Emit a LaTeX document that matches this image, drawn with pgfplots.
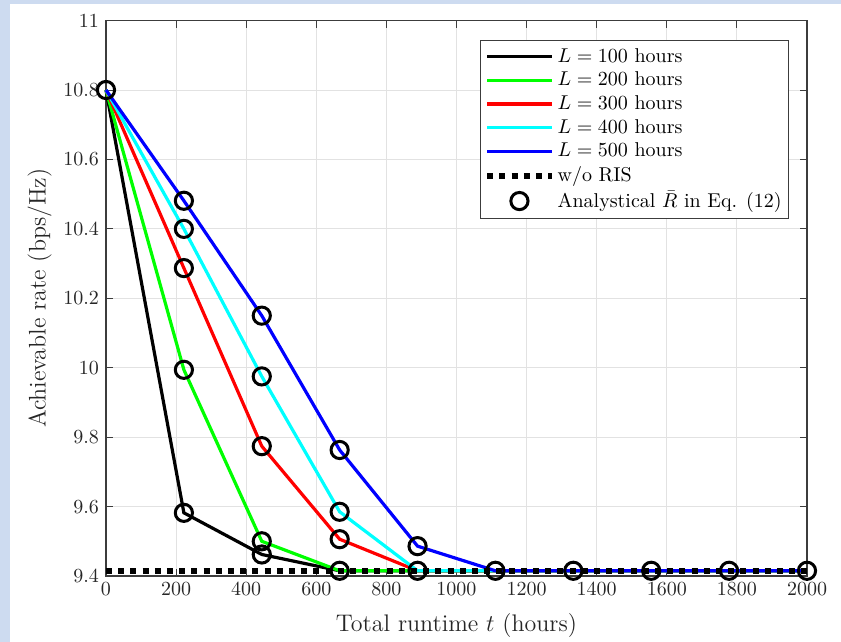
\documentclass[border=0pt]{standalone}
\usepackage{pgfplots}
\pgfplotsset{compat=1.18}
\definecolor{bgblue}{RGB}{205,219,240}
\definecolor{gridgray}{RGB}{226,226,226}
\definecolor{axgray}{RGB}{60,60,60}
\definecolor{mgreen}{RGB}{0,255,0}
\definecolor{mred}{RGB}{255,0,0}
\definecolor{mcyan}{RGB}{0,255,255}
\definecolor{mblue}{RGB}{0,0,255}
\pgfplotsset{
  lineleg/.style={legend image code/.code={\draw[##1] (0cm,0cm) -- (1.13cm,0cm);}},
  circleleg/.style={legend image code/.code={\draw[##1] plot coordinates {(0.565cm,0cm)};}},
}
\begin{document}
\begin{tikzpicture}
\fill[bgblue] (-53pt,-33pt) rectangle (367.5pt,288pt);
\fill[white] (-48pt,-33pt) rectangle (367.5pt,286pt);
\begin{axis}[
  at={(0pt,0pt)}, anchor=south west,
  scale only axis, width=350.5pt, height=277.7pt,
  xmin=0, xmax=2000, ymin=9.4, ymax=11,
  xtick={0,200,...,2000},
  ytick={9.4,9.6,9.8,10,10.2,10.4,10.6,10.8,11},
  yticklabels={9.4,9.6,9.8,10,10.2,10.4,10.6,10.8,11},
  scaled x ticks=false,
  xticklabel style={/pgf/number format/1000 sep={}},
  grid=major, major grid style={gridgray, line width=0.5pt},
  tick align=inside, major tick length=3.5pt,
  tick style={axgray, line width=0.5pt},
  axis line style={axgray, line width=0.6pt},
  ticklabel style={text=black!85},
  xlabel={Total runtime $t$ (hours)},
  ylabel={Achievable rate (bps/Hz)},
  label style={text=black!85, font=\large},
  xlabel style={yshift=-2pt},
  ylabel style={yshift=-1pt},
  clip=false,
  legend cell align=left,
  legend style={at={(0.974,0.965)}, anchor=north east, draw=axgray, line width=0.5pt,
    font=\normalsize, row sep=-0.6pt, inner sep=1.8pt,
    nodes={inner xsep=1.5pt}},
  lineleg,
]
\addplot[black, line width=1.6pt] coordinates {(0,10.8) (222.22,9.582) (444.44,9.462) (666.67,9.415) (888.89,9.415) (1111.11,9.415) (1333.33,9.415) (1555.56,9.415) (1777.78,9.415) (2000,9.415)};
\addlegendentry{$L=100$ hours}
\addplot[mgreen, line width=1.6pt] coordinates {(0,10.8) (222.22,9.994) (444.44,9.500) (666.67,9.415) (888.89,9.415) (1111.11,9.415) (1333.33,9.415) (1555.56,9.415) (1777.78,9.415) (2000,9.415)};
\addlegendentry{$L=200$ hours}
\addplot[mred, line width=1.6pt] coordinates {(0,10.8) (222.22,10.287) (444.44,9.774) (666.67,9.506) (888.89,9.415) (1111.11,9.415) (1333.33,9.415) (1555.56,9.415) (1777.78,9.415) (2000,9.415)};
\addlegendentry{$L=300$ hours}
\addplot[mcyan, line width=1.6pt] coordinates {(0,10.8) (222.22,10.400) (444.44,9.975) (666.67,9.585) (888.89,9.415) (1111.11,9.415) (1333.33,9.415) (1555.56,9.415) (1777.78,9.415) (2000,9.415)};
\addlegendentry{$L=400$ hours}
\addplot[mblue, line width=1.6pt] coordinates {(0,10.8) (222.22,10.481) (444.44,10.150) (666.67,9.763) (888.89,9.486) (1111.11,9.415) (1333.33,9.415) (1555.56,9.415) (1777.78,9.415) (2000,9.415)};
\addlegendentry{$L=500$ hours}
\addplot[black, line width=3pt, dash pattern=on 3pt off 3.1pt] coordinates {(0,9.415) (2000,9.415)};
\addlegendentry{w/o RIS}
\addplot[only marks, black, mark=o, mark size=4.3pt, mark options={line width=1.5pt}, circleleg] coordinates {
  (0,10.8)
  (222.22,9.582) (222.22,9.994) (222.22,10.287) (222.22,10.400) (222.22,10.481)
  (444.44,9.462) (444.44,9.500) (444.44,9.774) (444.44,9.975) (444.44,10.150)
  (666.67,9.415) (666.67,9.506) (666.67,9.585) (666.67,9.763)
  (888.89,9.415) (888.89,9.486)
  (1111.11,9.415) (1333.33,9.415) (1555.56,9.415) (1777.78,9.415) (2000,9.415)};
\addlegendentry{Analystical $\bar{R}$ in Eq. (12)}
\end{axis}
\pgfresetboundingbox
\useasboundingbox (-53pt,-33pt) rectangle (367.5pt,288pt);
\end{tikzpicture}
\end{document}
